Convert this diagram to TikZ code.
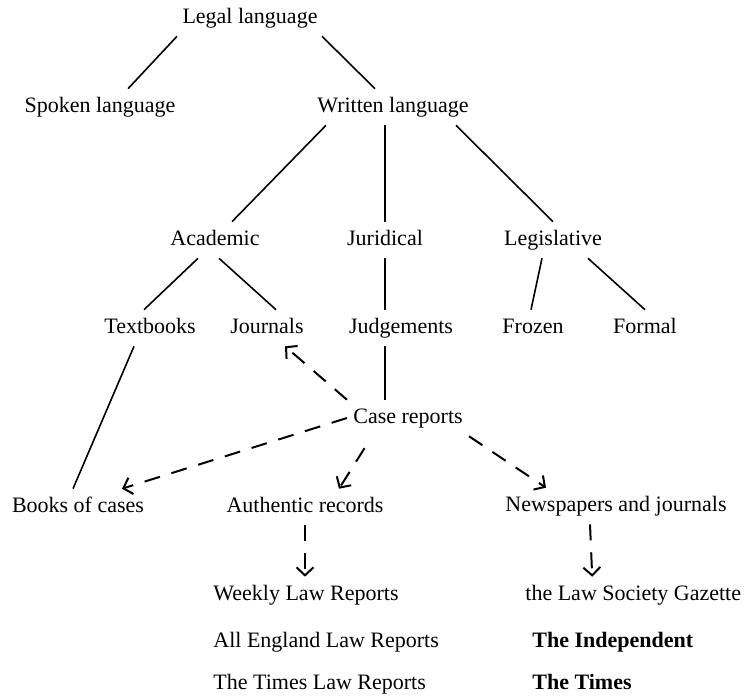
\documentclass[tikz,border=0pt]{standalone}
\usepackage{fontspec}
\setmainfont{Liberation Serif}
\usetikzlibrary{arrows.meta}
\tikzset{
  term/.style={inner xsep=3pt,inner ysep=4pt,text height=7.5pt,text depth=2.4pt,font=\fontsize{11}{13}\selectfont},
  branch/.style={line width=0.8pt},
  source/.style={line width=1pt,dash pattern=on 8pt off 6pt,-{Straight Barb[length=4pt,width=8.5pt]}}
}
\begin{document}
\begin{tikzpicture}[x=0.5pt,y=-0.5pt]
        %% NOTE: draw diagram
        \useasboundingbox (0,0) rectangle (744,696);
        %% tree labels
        \node[term] (legal) at (250,18) {Legal language};
        \node[term] (spoken) at (100,107) {Spoken language};
        \node[term] (written) at (393,107) {Written language};
        \node[term] (academic) at (215,240) {Academic};
        \node[term] (juridical) at (385,240) {Juridical};
        \node[term] (legislative) at (553,240) {Legislative};
        \node[term] (textbooks) at (150,328) {Textbooks};
        \node[term] (journals) at (267,328) {Journals};
        \node[term] (judgements) at (401,328) {Judgements};
        \node[term] (frozen) at (533,328) {Frozen};
        \node[term] (formal) at (645,328) {Formal};
        \node[term] (case) at (408,418) {Case reports};
        \node[term] (books) at (78,507) {Books of cases};
        \node[term] (authentic) at (305,507) {Authentic records};
        \node[term] (newspapers) at (616,506) {Newspapers and journals};
        %% lists of reports
        \node[term,anchor=west] (weekly) at (207,595) {Weekly Law Reports};
        \node[term,anchor=west] (allengland) at (207,642) {All England Law Reports};
        \node[term,anchor=west] (timeslaw) at (207,684) {The Times Law Reports};
        \node[term,anchor=west] (gazette) at (519,595) {the Law Society Gazette};
        \node[term,anchor=west] (independent) at (526,642) {\bfseries The Independent};
        \node[term,anchor=west] (times) at (526,684) {\bfseries The Times};
        %% branches
        \draw[branch] ([xshift=-36.5pt]legal.south) -- ([xshift=14pt]spoken.north);
        \draw[branch] ([xshift=36pt]legal.south) -- ([xshift=-9pt]written.north);
        \draw[branch] ([xshift=-33.5pt]written.south) -- ([xshift=8.5pt]academic.north);
        \draw[branch] (juridical.north |- written.south) -- (juridical.north);
        \draw[branch] ([xshift=31.5pt]written.south) -- (legislative.north);
        \draw[branch] ([xshift=-8.5pt]academic.south) -- ([xshift=-3pt]textbooks.north);
        \draw[branch] ([xshift=2pt]academic.south) -- ([xshift=4.5pt]journals.north);
        \draw[branch] (juridical.south) -- (juridical.south |- judgements.north);
        \draw[branch] ([xshift=-5.5pt]legislative.south) -- ([xshift=-1pt]frozen.north);
        \draw[branch] ([xshift=17.5pt]legislative.south) -- (formal.north);
        \draw[branch] (juridical.south |- judgements.south) -- (juridical.south |- case.north);
        \draw[branch] ([xshift=-8pt]textbooks.south) -- ([xshift=-2.5pt]books.north);
        %% case reports go out to
        \draw[source] (case.north west) -- ([xshift=9pt]journals.south);
        \draw[source] (case.west) -- ([xshift=22pt]books.north);
        \draw[source,shorten <=7pt] ([xshift=-18pt]case.south) -- ([xshift=17pt]authentic.north);
        \draw[source] (case.south east) -- ([xshift=-35pt]newspapers.north);
        \draw[source] (authentic.south) -- (authentic.south |- weekly.north);
        \draw[source] ([xshift=-13pt]newspapers.south) -- ([xshift=-20.5pt]gazette.north);
\end{tikzpicture}
\end{document}
